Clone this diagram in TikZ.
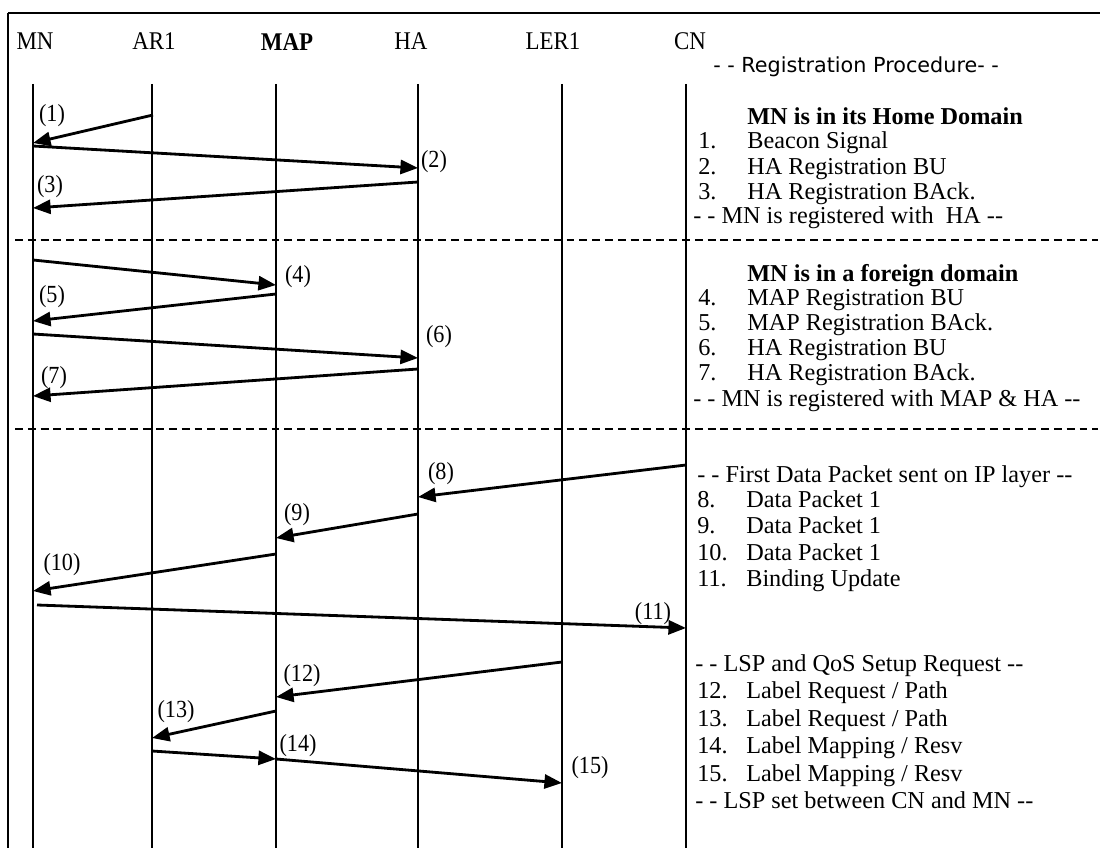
\documentclass[tikz,border=0pt]{standalone}
\usepackage{fontspec}
\setmainfont{Liberation Serif}
\newfontfamily\regfont{DejaVu Sans}
\newfontfamily\narrowfont{Liberation Serif}[FakeStretch=0.9]
\usetikzlibrary{arrows.meta}

\newcommand{\msgitem}[2]{\makebox[0.98cm][l]{#1}#2}

\begin{document}
\begin{tikzpicture}[x=0.02cm, y=-0.02cm,
  head/.style={anchor=base, inner sep=0pt, font=\fontsize{14.5}{16}\narrowfont},
  life/.style={line width=0.9pt},
  msg/.style={-{Triangle[length=10pt,width=8pt]}, line width=1.6pt},
  lbl/.style={inner sep=0pt, font=\fontsize{14}{16}\narrowfont},
  txt/.style={anchor=base west, inner sep=0pt, font=\fontsize{13.8}{15}\selectfont},
  sep/.style={line width=1.3pt, dash pattern=on 4.5pt off 2.8pt},
]
\useasboundingbox (0,0) rectangle (1106,848);
% --- frame ---
\coordinate (fTL) at (8,13);
\coordinate (fTR) at (1100,13);
\coordinate (fBL) at (8,848);
\draw[line width=1pt] (fBL) -- (fTL);
\draw[line width=1.6pt] (fTL) -- (fTR);
% --- entities ---
\node[head] (mn) at (35,50) {MN};
\node[head] (ar) at (154,50) {AR1};
\node[head, font=\fontsize{14.5}{16}\narrowfont\bfseries] (map) at (287,51) {MAP};
\node[head] (ha) at (411,50) {HA};
\node[head] (ler) at (553,50) {LER1};
\node[head] (cn) at (690,50) {CN};
% --- lifelines ---
\coordinate (mnT) at (33,84);  \coordinate (mnB) at (33,848);
\coordinate (arT) at (152,84); \coordinate (arB) at (152,848);
\coordinate (mapT) at (276,84); \coordinate (mapB) at (276,848);
\coordinate (haT) at (418,84); \coordinate (haB) at (418,848);
\coordinate (lerT) at (562,84); \coordinate (lerB) at (562,848);
\coordinate (cnT) at (686,84); \coordinate (cnB) at (686,848);
\draw[life] (mnT) -- (mnB);
\draw[life] (arT) -- (arB);
\draw[life] (mapT) -- (mapB);
\draw[life] (haT) -- (haB);
\draw[life] (lerT) -- (lerB);
\draw[life, line width=1.5pt] (cnT) -- (cnB);
% --- separators ---
\coordinate (d1L) at (15,240); \coordinate (d1R) at (1098,240);
\coordinate (d2L) at (15,429); \coordinate (d2R) at (1098,429);
\draw[sep] (d1L) -- (d1R);
\draw[sep] (d2L) -- (d2R);
% --- home domain ---
\coordinate (s1) at (153,115); \coordinate (e1) at (33,143);
\coordinate (s2) at (33,146);  \coordinate (e2) at (418,168);
\coordinate (s3) at (418,182); \coordinate (e3) at (33,208);
\draw[msg] (s1) -- (e1);
\draw[msg] (s2) -- (e2);
\draw[msg] (s3) -- (e3);
\node[lbl] (l1) at (52,116) {(1)};
\node[lbl] (l2) at (434,162) {(2)};
\node[lbl] (l3) at (50,187) {(3)};
% --- foreign domain ---
\coordinate (s4) at (33,260);  \coordinate (e4) at (276,285);
\coordinate (s5) at (276,294); \coordinate (e5) at (33,321);
\coordinate (s6) at (33,334);  \coordinate (e6) at (418,358);
\coordinate (s7) at (418,369); \coordinate (e7) at (33,396);
\draw[msg] (s4) -- (e4);
\draw[msg] (s5) -- (e5);
\draw[msg] (s6) -- (e6);
\draw[msg] (s7) -- (e7);
\node[lbl] (l4) at (298,277) {(4)};
\node[lbl] (l5) at (52,297) {(5)};
\node[lbl] (l6) at (439,337) {(6)};
\node[lbl] (l7) at (54,378) {(7)};
% --- data packet and LSP setup ---
\coordinate (s8) at (686,465);  \coordinate (e8) at (418,497);
\coordinate (s9) at (418,514);  \coordinate (e9) at (276,538);
\coordinate (s10) at (276,554); \coordinate (e10) at (33,591);
\coordinate (s11) at (37,605);  \coordinate (e11) at (686,628);
\coordinate (s12) at (562,662); \coordinate (e12) at (276,697);
\coordinate (s13) at (276,711); \coordinate (e13) at (152,738);
\coordinate (s14) at (152,751); \coordinate (e14) at (276,759);
\coordinate (e15) at (562,783);
\draw[msg] (s8) -- (e8);
\draw[msg] (s9) -- (e9);
\draw[msg] (s10) -- (e10);
\draw[msg] (s11) -- (e11);
\draw[msg] (s12) -- (e12);
\draw[msg] (s13) -- (e13);
\draw[msg] (s14) -- (e14);
\draw[msg] (e14) -- (e15);
\node[lbl] (l8) at (441,474) {(8)};
\node[lbl] (l9) at (297,515) {(9)};
\node[lbl] (l10) at (62,565) {(10)};
\node[lbl] (l11) at (653,614) {(11)};
\node[lbl] (l12) at (302,676) {(12)};
\node[lbl] (l13) at (176,712) {(13)};
\node[lbl] (l14) at (298,746) {(14)};
\node[lbl] (l15) at (590,768) {(15)};
% --- legend ---
\node[txt, font=\fontsize{11.8}{13}\regfont] (reg) at (713,73) {- - Registration Procedure- -};
\node[txt, font=\fontsize{13.8}{15}\selectfont\bfseries] (home) at (747,125) {MN is in its Home Domain};
\node[txt] (t1) at (698,149) {\msgitem{1.}{Beacon Signal}};
\node[txt] (t2) at (698,174) {\msgitem{2.}{HA Registration BU}};
\node[txt] (t3) at (698,199) {\msgitem{3.}{HA Registration BAck.}};
\node[txt] (r1) at (693,223) {- - MN is registered with\ \ HA -{}-};
\node[txt, font=\fontsize{13.8}{15}\selectfont\bfseries] (foreign) at (747,281) {MN is in a foreign domain};
\node[txt] (t4) at (698,305) {\msgitem{4.}{MAP Registration BU}};
\node[txt] (t5) at (698,330) {\msgitem{5.}{MAP Registration BAck.}};
\node[txt] (t6) at (698,355) {\msgitem{6.}{HA Registration BU}};
\node[txt] (t7) at (698,380) {\msgitem{7.}{HA Registration BAck.}};
\node[txt] (r2) at (693,406) {- - MN is registered with MAP \& HA -{}-};
\node[txt] (fdp) at (697,482) {- - First Data Packet sent on IP layer -{}-};
\node[txt] (t8) at (697,507) {\msgitem{8.}{Data Packet 1}};
\node[txt] (t9) at (697,533) {\msgitem{9.}{Data Packet 1}};
\node[txt] (t10) at (697,560) {\msgitem{10.}{Data Packet 1}};
\node[txt] (t11) at (697,586) {\msgitem{11.}{Binding Update}};
\node[txt] (lsp) at (695,671) {- - LSP and QoS Setup Request -{}-};
\node[txt] (t12) at (697,698) {\msgitem{12.}{Label Request / Path}};
\node[txt] (t13) at (697,726) {\msgitem{13.}{Label Request / Path}};
\node[txt] (t14) at (697,753) {\msgitem{14.}{Label Mapping / Resv}};
\node[txt] (t15) at (697,781) {\msgitem{15.}{Label Mapping / Resv}};
\node[txt] (done) at (695,808) {- - LSP set between CN and MN -{}-};
\end{tikzpicture}
\end{document}
